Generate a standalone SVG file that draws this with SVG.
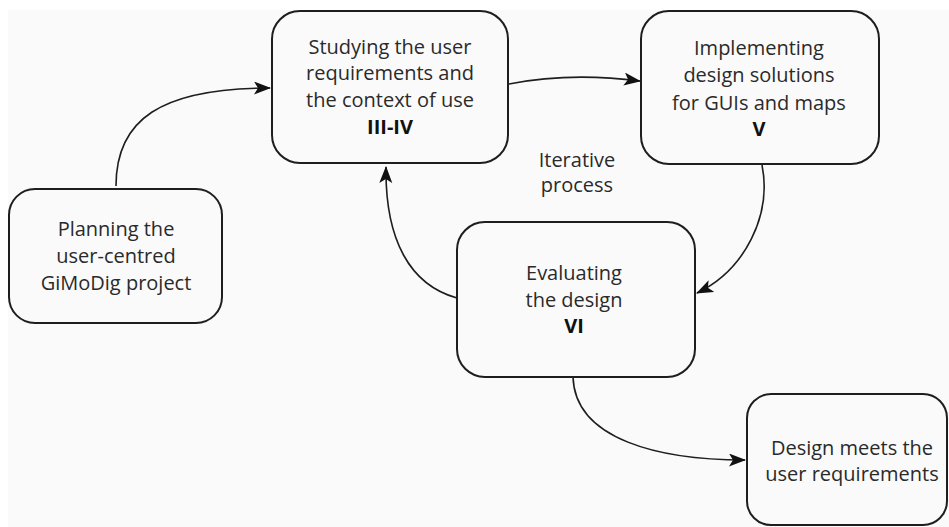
<svg xmlns="http://www.w3.org/2000/svg" width="949" height="527" viewBox="0 0 949 527">
  <style>
    .box { fill: none; stroke: #1e1e1e; stroke-width: 2; }
    .lbl { font-family: "Open Sans", "Noto Sans", sans-serif; font-size: 20px; fill: #2a2a2a; text-anchor: middle; }
    .num { font-weight: bold; fill: #111; }
    .edge { fill: none; stroke: #1e1e1e; stroke-width: 1.6; marker-end: url(#head); }
  </style>
  <defs>
    <marker id="head" markerUnits="userSpaceOnUse" markerWidth="19" markerHeight="14" refX="16" refY="6.5" orient="auto">
      <path d="M0,0 L17,6.5 L0,13 L4,6.5 Z" fill="#111"/>
    </marker>
  </defs>

  <!-- page background -->
  <rect x="0" y="0" width="949" height="527" fill="#ffffff"/>
  <rect x="8" y="10" width="941" height="517" fill="#fafafa"/>

  <!-- connectors -->
  <g id="connectors">
    <path class="edge" d="M116,186 C116,120 160,88 270,88"/>
    <path class="edge" d="M509,84 Q570,72 640,81"/>
    <path class="edge" d="M762,165 C772,215 745,270 697,293"/>
    <path class="edge" d="M457,298 C410,285 385,240 386,167"/>
    <path class="edge" d="M573,377 C575,440 660,460 745,460"/>
  </g>

  <g id="node-planning">
    <rect class="box" x="9" y="189" width="213" height="134" rx="26"/>
    <text class="lbl" x="116" y="236">Planning the</text>
    <text class="lbl" x="116" y="263">user-centred</text>
    <text class="lbl" x="116" y="290">GiMoDig project</text>
  </g>

  <g id="node-studying">
    <rect class="box" x="272" y="11" width="236" height="152" rx="28"/>
    <text class="lbl" x="390" y="54">Studying the user</text>
    <text class="lbl" x="390" y="80">requirements and</text>
    <text class="lbl" x="390" y="107">the context of use</text>
    <text class="lbl num" x="390" y="134">III-IV</text>
  </g>

  <g id="node-implementing">
    <rect class="box" x="641" y="11" width="238" height="153" rx="28"/>
    <text class="lbl" x="759" y="55">Implementing</text>
    <text class="lbl" x="759" y="82">design solutions</text>
    <text class="lbl" x="759" y="110">for GUIs and maps</text>
    <text class="lbl num" x="759" y="136">V</text>
  </g>

  <g id="node-iterative">
    <text class="lbl" x="577" y="167">Iterative</text>
    <text class="lbl" x="577" y="192">process</text>
  </g>

  <g id="node-evaluating">
    <rect class="box" x="457" y="222" width="238" height="155" rx="28"/>
    <text class="lbl" x="574" y="280">Evaluating</text>
    <text class="lbl" x="574" y="307">the design</text>
    <text class="lbl num" x="574" y="333">VI</text>
  </g>

  <g id="node-meets">
    <rect class="box" x="747" y="394" width="200" height="131" rx="24"/>
    <text class="lbl" x="852" y="455">Design meets the</text>
    <text class="lbl" x="852" y="481">user requirements</text>
  </g>
</svg>
